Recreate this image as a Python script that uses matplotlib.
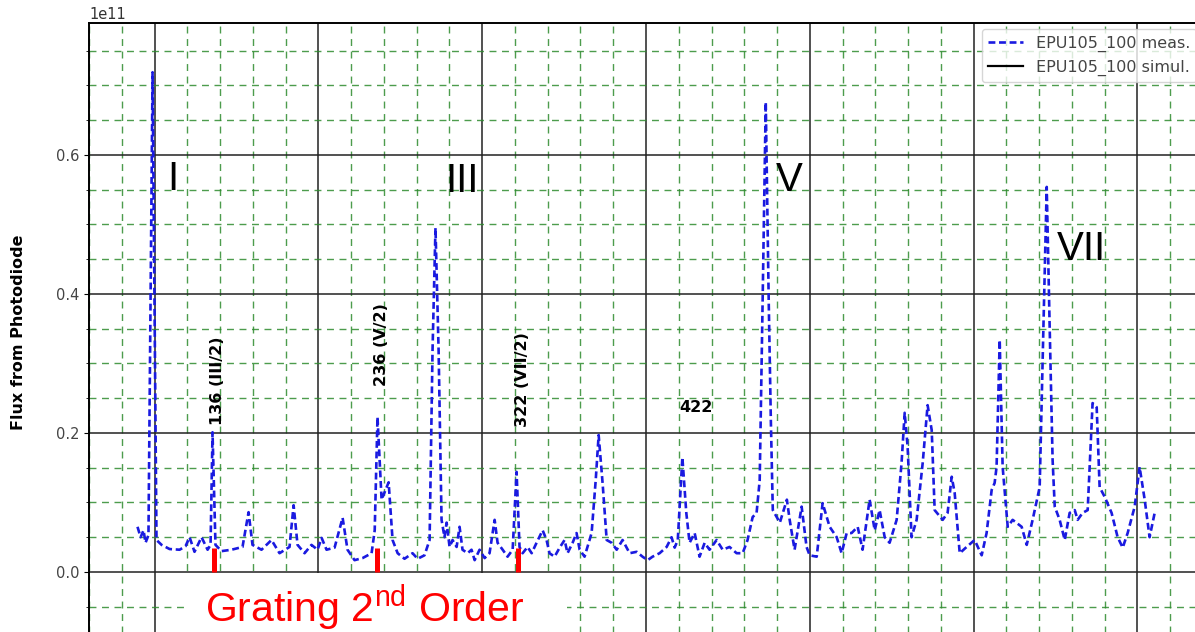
import matplotlib
matplotlib.use("Agg")
import matplotlib.pyplot as plt
from matplotlib.ticker import MultipleLocator
from matplotlib.lines import Line2D
from matplotlib.patches import Rectangle

plt.rcParams["mathtext.fontset"] = "custom"
plt.rcParams["mathtext.rm"] = "Liberation Sans"

# Measured photodiode flux versus photon energy (eV), flux in 1e11 units
energy = [
    89.6, 91.5, 93.3, 94.5, 96.3, 97.6, 98.8, 100.0, 101.2, 104.3,
    109.2, 115.3, 118.9, 121.4, 124.4, 128.7, 132.4, 134.2, 135.4, 137.2,
    140.9, 147.0, 153.7, 157.4, 159.8, 165.3, 171.4, 176.3, 182.4, 184.9,
    187.3, 191.6, 195.8, 199.5, 202.0, 205.0, 209.9, 214.8, 217.8, 222.1,
    227.0, 232.5, 234.4, 236.1, 238.6, 241.0, 242.9, 245.3, 248.4, 252.6,
    257.5, 260.6, 264.8, 267.9, 269.7, 271.5, 273.4, 275.2, 277.0, 278.3,
    280.1, 281.9, 284.4, 286.2, 288.0, 291.1, 293.5, 295.4, 298.4, 301.5,
    304.5, 307.6, 309.4, 312.5, 315.5, 318.6, 321.0, 322.8, 324.7, 327.7,
    330.2, 333.2, 336.9, 339.3, 341.1, 344.2, 347.3, 350.3, 352.1, 355.2,
    357.6, 359.5, 362.5, 366.8, 369.3, 371.1, 373.5, 376.0, 379.0, 382.1,
    385.7, 390.0, 394.3, 397.9, 401.0, 404.0, 408.3, 412.6, 415.6, 417.5,
    419.4, 422.2, 424.6, 426.6, 429.7, 432.7, 435.8, 438.8, 443.1, 446.8,
    451.0, 455.3, 459.0, 462.0, 465.1, 467.5, 469.4, 471.2, 473.1, 474.9,
    476.2, 477.4, 481.7, 486.0, 487.7, 490.7, 495.0, 498.0, 499.9, 504.2,
    507.8, 512.1, 516.4, 519.4, 522.5, 525.5, 529.2, 532.2, 536.5, 539.6,
    542.6, 545.7, 548.7, 553.0, 556.0, 557.9, 559.7, 562.1, 565.2, 568.9,
    571.9, 574.4, 576.2, 581.1, 584.1, 586.6, 588.4, 591.5, 595.7, 600.6,
    604.9, 607.9, 611.0, 612.8, 614.0, 615.9, 617.7, 620.8, 623.8, 629.3,
    632.4, 636.0, 640.3, 642.7, 644.6, 646.4, 648.2, 649.5, 652.5, 655.6,
    658.6, 661.7, 663.5, 666.5, 669.6, 672.6, 675.1, 676.9, 680.0, 684.2,
    687.9, 691.0, 694.0, 698.3, 701.3, 704.4, 707.4, 710.5,
]
flux = [
    0.065, 0.050, 0.060, 0.042, 0.053, 0.391, 0.719, 0.391, 0.046, 0.039,
    0.033, 0.032, 0.037, 0.050, 0.029, 0.050, 0.032, 0.039, 0.201, 0.039,
    0.030, 0.032, 0.036, 0.086, 0.039, 0.032, 0.046, 0.027, 0.036, 0.096,
    0.039, 0.027, 0.039, 0.032, 0.049, 0.032, 0.035, 0.078, 0.032, 0.017,
    0.020, 0.027, 0.060, 0.223, 0.104, 0.118, 0.129, 0.046, 0.027, 0.019,
    0.027, 0.019, 0.024, 0.046, 0.319, 0.495, 0.319, 0.075, 0.050, 0.071,
    0.036, 0.046, 0.036, 0.065, 0.032, 0.027, 0.032, 0.017, 0.032, 0.020,
    0.027, 0.075, 0.042, 0.032, 0.022, 0.032, 0.144, 0.036, 0.027, 0.036,
    0.027, 0.042, 0.060, 0.046, 0.027, 0.022, 0.035, 0.046, 0.027, 0.042,
    0.056, 0.032, 0.022, 0.056, 0.132, 0.197, 0.128, 0.046, 0.042, 0.032,
    0.046, 0.027, 0.029, 0.022, 0.017, 0.022, 0.027, 0.036, 0.050, 0.035,
    0.046, 0.165, 0.085, 0.042, 0.056, 0.022, 0.042, 0.032, 0.046, 0.032,
    0.036, 0.027, 0.027, 0.046, 0.079, 0.085, 0.132, 0.391, 0.676, 0.391,
    0.219, 0.089, 0.071, 0.104, 0.075, 0.032, 0.094, 0.036, 0.024, 0.022,
    0.099, 0.065, 0.050, 0.027, 0.056, 0.056, 0.065, 0.032, 0.104, 0.060,
    0.089, 0.050, 0.042, 0.075, 0.157, 0.229, 0.180, 0.050, 0.075, 0.157,
    0.240, 0.204, 0.089, 0.075, 0.085, 0.137, 0.114, 0.027, 0.036, 0.046,
    0.024, 0.056, 0.118, 0.128, 0.151, 0.334, 0.151, 0.065, 0.075, 0.065,
    0.039, 0.075, 0.122, 0.363, 0.554, 0.353, 0.161, 0.094, 0.075, 0.046,
    0.085, 0.089, 0.075, 0.085, 0.089, 0.243, 0.237, 0.122, 0.108, 0.085,
    0.050, 0.035, 0.056, 0.094, 0.151, 0.104, 0.050, 0.085,
]
flux_scale = 1e11

# Second-order grating contributions (eV) and their labels
second_order_energy = [136, 236, 322]
second_order_labels = ["136 (III/2)", "236 (V/2)", "322 (VII/2)"]
second_order_label_y = [0.212, 0.268, 0.208]
marker_height = 0.035

# Undulator harmonics
harmonic_names = ["I", "III", "V", "VII"]
harmonic_x = [107.9, 277.7, 479.1, 650.7]
harmonic_y = [0.550, 0.547, 0.548, 0.449]

fig = plt.figure(figsize=(11.95, 6.32), dpi=100)
ax = fig.add_axes([89 / 1195, -0.015, 1114 / 1195, 0.9788])

ax.plot(energy, [f * flux_scale for f in flux],
        linestyle=(0, (2.6, 1.4)), color="#1a1ae0", linewidth=1.9,
        label="EPU105_100 meas.", zorder=3)
sim_handle = Line2D([], [], color="black", linewidth=1.6,
                    label="EPU105_100 simul.")

ax.vlines(second_order_energy, 0, marker_height * flux_scale,
          color="red", linewidth=3.6, zorder=4)

for e, lab, y in zip(second_order_energy, second_order_labels,
                     second_order_label_y):
    ax.text(e + 2.5, y * flux_scale, lab, rotation=90, ha="center",
            va="bottom", fontsize=11.5, fontweight="bold", color="black")
ax.text(420.5, 0.237 * flux_scale, "422", ha="left", va="center",
        fontsize=11.5, fontweight="bold", color="black")

for name, x, y in zip(harmonic_names, harmonic_x, harmonic_y):
    ax.text(x, y * flux_scale, name, ha="left", va="baseline",
            fontsize=29, family="Liberation Sans", color="black")

ax.set_xlim(60, 740)
ax.set_ylim(-0.1 * flux_scale, 0.79 * flux_scale)
ax.xaxis.set_major_locator(MultipleLocator(100))
ax.xaxis.set_minor_locator(MultipleLocator(20))
ax.yaxis.set_major_locator(MultipleLocator(0.2 * flux_scale))
ax.yaxis.set_minor_locator(MultipleLocator(0.05 * flux_scale))
ax.ticklabel_format(axis="y", style="sci", scilimits=(11, 11))

ax.grid(which="minor", color="#2e8b2e", linestyle=(0, (5, 4)),
        linewidth=1.0, alpha=0.85, zorder=0)
ax.grid(which="major", color="#222222", linestyle="-", linewidth=1.1,
        zorder=1)
ax.set_axisbelow(True)

ax.tick_params(axis="x", labelbottom=False)
ax.tick_params(axis="y", labelsize=10.5, labelcolor="#444444")
ax.yaxis.get_offset_text().set_fontsize(10.5)
ax.yaxis.get_offset_text().set_color("#333333")
for s in ax.spines.values():
    s.set_linewidth(1.4)

ax.set_ylabel("Flux from Photodiode", fontsize=11.5, fontweight="bold")
ax.yaxis.set_label_coords(-0.057, 0.5)

handles, labels = ax.get_legend_handles_labels()
ax.legend(handles + [sim_handle], labels + [sim_handle.get_label()],
          loc="upper right", fontsize=11.5, handlelength=2.2,
          labelcolor="#444444", borderaxespad=0.4)

# White panel holding the red caption below the baseline
fig.add_artist(Rectangle((184 / 1195, 0), 383 / 1195, 59 / 632,
                         transform=fig.transFigure, facecolor="white",
                         edgecolor="none", zorder=10))
fig.text(205 / 1195, 10 / 632, r"Grating 2$^{\mathrm{nd}}$ Order",
         color="red", fontsize=29.5, family="Liberation Sans",
         ha="left", va="baseline", zorder=11)

fig.savefig("out.png", dpi=100)
